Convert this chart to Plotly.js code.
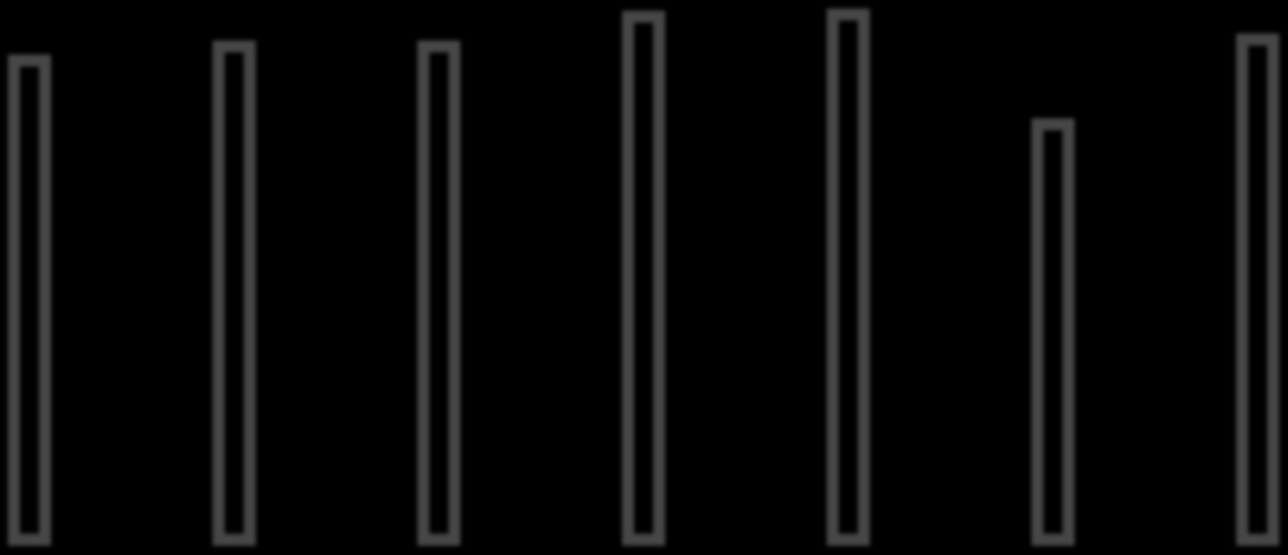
<!DOCTYPE html>
<html>
<head>
<meta charset="utf-8">
<script src="https://cdn.plot.ly/plotly-3.0.1.min.js"></script>
<style>
  html, body { margin: 0; padding: 0; background: #000; }
  #chart { width: 1288px; height: 555px; filter: blur(2.2px); }
</style>
</head>
<body>
<div id="chart"></div>
<script>
const categories = ['A', 'B', 'C', 'D', 'E', 'F', 'G'];
const values = [88.8, 91.4, 91.4, 96.9, 97.3, 77.0, 92.7];

const trace = {
  type: 'bar',
  x: categories,
  y: values,
  marker: {
    color: '#000000',
    line: { color: '#474747', width: 12 }
  },
  hoverinfo: 'none'
};

const layout = {
  width: 1288,
  height: 555,
  margin: { l: 0, r: 0, t: 0, b: 0, pad: 0 },
  paper_bgcolor: '#000000',
  plot_bgcolor: '#000000',
  showlegend: false,
  bargap: 0.848,
  xaxis: {
    type: 'category',
    range: [-0.1441, 6.148],
    visible: false,
    showgrid: false,
    zeroline: false
  },
  yaxis: {
    range: [-2.83, 100],
    visible: false,
    showgrid: false,
    zeroline: false
  }
};

Plotly.newPlot('chart', [trace], layout, { displayModeBar: false, staticPlot: true });
</script>
</body>
</html>
